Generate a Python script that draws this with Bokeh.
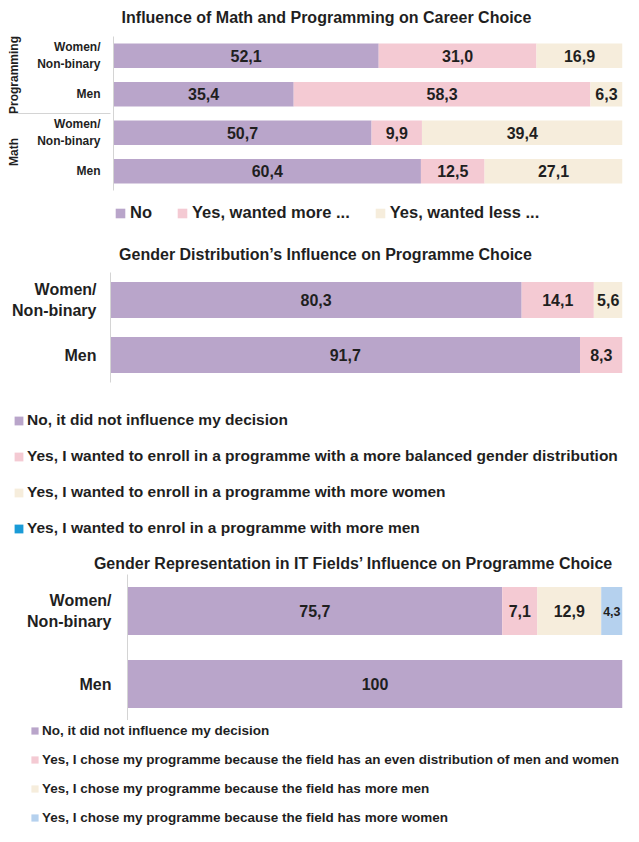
from bokeh.plotting import figure
from bokeh.models import ColumnDataSource, FactorRange, Range1d, Label
from bokeh.layouts import column
from bokeh.embed import file_html
from bokeh.resources import INLINE
from bokeh.core.properties import value

FONT = "Liberation Sans"
INK = "#1F1F1F"
PURPLE = "#B9A5CA"
PINK = "#F4CAD3"
CREAM = "#F6EDDC"
BLUE = "#1A9BD7"
LBLUE = "#B5D1EE"
AXIS_GREY = "#D4D4D4"
W = 623

# ---------------- Chart 1 data ----------------
c1_title = "Influence of Math and Programming on Career Choice"
c1_groups = ["Programming", "Programming", "Math", "Math"]
c1_cats = ["Women/\nNon-binary", "Men", "Women/\nNon-binary", "Men"]
c1_no = [52.1, 35.4, 50.7, 60.4]
c1_more = [31.0, 58.3, 9.9, 12.5]
c1_less = [16.9, 6.3, 39.4, 27.1]
c1_legend = ["No", "Yes, wanted more ...", "Yes, wanted less ..."]

# ---------------- Chart 2 data ----------------
c2_title = "Gender Distribution\u2019s Influence on Programme Choice"
c2_cats = ["Women/\nNon-binary", "Men"]
c2_no = [80.3, 91.7]
c2_balanced = [14.1, 8.3]
c2_more_women = [5.6, 0.0]
c2_more_men = [0.0, 0.0]
c2_legend = [
    "No, it did not influence my decision",
    "Yes, I wanted to enroll in a programme with a more balanced gender distribution",
    "Yes, I wanted to enroll in a programme with more women",
    "Yes, I wanted to enrol in a programme with more men",
]

# ---------------- Chart 3 data ----------------
c3_title = "Gender Representation in IT Fields\u2019 Influence on Programme Choice"
c3_cats = ["Women/\nNon-binary", "Men"]
c3_no = [75.7, 100.0]
c3_even = [7.1, 0.0]
c3_more_men = [12.9, 0.0]
c3_more_women = [4.3, 0.0]
c3_legend = [
    "No, it did not influence my decision",
    "Yes, I chose my programme because the field has an even distribution of men and women",
    "Yes, I chose my programme because the field has more men",
    "Yes, I chose my programme because the field has more women",
]


def fmt(v):
    if v == 100:
        return "100"
    return f"{v:.1f}".replace(".", ",")


def clean(p):
    p.outline_line_color = None
    p.grid.visible = False
    p.background_fill_color = "white"
    p.border_fill_color = "white"
    return p


def plain_fig(height):
    p = figure(width=W, height=height, x_range=Range1d(0, W), y_range=Range1d(0, height),
               x_axis_location=None, y_axis_location=None, toolbar_location=None,
               output_backend="svg", min_border=0, frame_align=False)
    return clean(p)


def title_fig(text, height, cx, mid):
    p = plain_fig(height)
    p.add_layout(Label(x=cx, y=mid, text=text, text_align="center",
                       text_baseline="middle", text_font=FONT,
                       text_font_style="bold", text_font_size="16px", text_color=INK))
    return p


def legend_fig(height, labels, colors, loc, orientation, gw, standoff, spacing, size, lh):
    p = plain_fig(height)
    for lab, col in zip(labels, colors):
        # swatch renderers for the legend, kept outside the visible range
        p.hbar(y=[-50], right=[1], height=1, fill_color=col, line_color=None, legend_label=lab)
    lg = p.legend[0]
    lg.location = loc
    lg.orientation = orientation
    lg.glyph_width = gw
    lg.glyph_height = gw
    lg.label_standoff = standoff
    lg.spacing = spacing
    lg.padding = 0
    lg.margin = 0
    lg.label_height = lh
    lg.label_width = 10
    lg.border_line_color = None
    lg.background_fill_alpha = 0
    lg.label_text_font = FONT
    lg.label_text_font_style = "bold"
    lg.label_text_font_size = size
    lg.label_text_color = INK
    return p


def chart_fig(height, y_range, left, top, bottom):
    p = figure(width=W, height=height, x_range=Range1d(0, 100), y_range=y_range,
               x_axis_location=None, toolbar_location=None, output_backend="svg",
               min_border_left=left, min_border_right=1, min_border_top=top,
               min_border_bottom=bottom, frame_align=False)
    return clean(p)


def add_bars(p, ys, series, colors, bar_h, big="16px", small="12.5px"):
    keys = [f"s{i}" for i in range(len(series))]
    data = {"y": ys}
    for k, s in zip(keys, series):
        data[k] = s
    src = ColumnDataSource(data)
    p.hbar_stack(keys, y="y", height=bar_h, fill_color=colors, line_color=None, source=src)
    xs, yy, ts, fs = [], [], [], []
    for i, y in enumerate(ys):
        left = 0.0
        for s in series:
            v = s[i]
            if v > 0:
                xs.append(left + v / 2)
                yy.append(y)
                ts.append(fmt(v))
                fs.append(big if v >= 5 else small)
            left += v
    tsrc = ColumnDataSource(dict(x=xs, y=yy, t=ts, fs=fs))
    p.text(x="x", y="y", text="t", source=tsrc, text_align="center",
           text_baseline="middle", text_font=value(FONT), text_font_style="bold",
           text_font_size="fs", text_color=INK)


def style_yaxis(p, size, standoff):
    ax = p.yaxis[0]
    ax.axis_line_color = AXIS_GREY
    ax.axis_line_width = 1
    ax.major_tick_line_color = None
    ax.minor_tick_line_color = None
    ax.major_tick_out = 0
    ax.major_tick_in = 0
    ax.minor_tick_out = 0
    ax.axis_label_standoff = 0
    ax.major_label_standoff = standoff
    ax.major_label_text_font = FONT
    ax.major_label_text_font_style = "bold"
    ax.major_label_text_font_size = size
    ax.major_label_text_color = INK
    return ax


# ---------------- Chart 1 ----------------
t1 = title_fig(c1_title, 28, 326, 11.5)
f1_factors = list(zip(c1_groups, c1_cats))[::-1]
p1 = chart_fig(170, FactorRange(factors=f1_factors, range_padding=0, group_padding=0,
                                factor_padding=0), left=113, top=8, bottom=8)
add_bars(p1, list(zip(c1_groups, c1_cats)), [c1_no, c1_more, c1_less],
         [PURPLE, PINK, CREAM], 0.64)
ax1 = style_yaxis(p1, "12px", 13)
ax1.group_text_font = FONT
ax1.group_text_font_style = "bold"
ax1.group_text_font_size = "12px"
ax1.group_text_color = INK
ax1.separator_line_color = AXIS_GREY
ax1.separator_line_width = 1
l1 = legend_fig(34, c1_legend, [PURPLE, PINK, CREAM], (114, 10), "horizontal",
                12, 4, 24, "16.5px", 19)

# ---------------- Chart 2 ----------------
t2 = title_fig(c2_title, 33, 325, 11.5)
p2 = chart_fig(125, FactorRange(factors=c2_cats[::-1], range_padding=0),
               left=110, top=7, bottom=8)
add_bars(p2, c2_cats, [c2_no, c2_balanced, c2_more_women, c2_more_men],
         [PURPLE, PINK, CREAM, BLUE], 0.655)
style_yaxis(p2, "16px", 14)
l2 = legend_fig(156, c2_legend, [PURPLE, PINK, CREAM, BLUE], (13, 8), "vertical",
                11, 3, 16, "15.5px", 20)

# ---------------- Chart 3 ----------------
t3 = title_fig(c3_title, 28, 353, 11.5)
p3 = chart_fig(146, FactorRange(factors=c3_cats[::-1], range_padding=0),
               left=127, top=0, bottom=0)
add_bars(p3, c3_cats, [c3_no, c3_even, c3_more_men, c3_more_women],
         [PURPLE, PINK, CREAM, LBLUE], 0.66)
style_yaxis(p3, "16px", 16)
l3 = legend_fig(106, c3_legend, [PURPLE, PINK, CREAM, LBLUE], (30, 0), "vertical",
                9, 3, 12, "13.5px", 17)

layout = column(t1, p1, l1, t2, p2, l2, t3, p3, l3, spacing=0)
open("out.html", "w").write(file_html(layout, INLINE))
